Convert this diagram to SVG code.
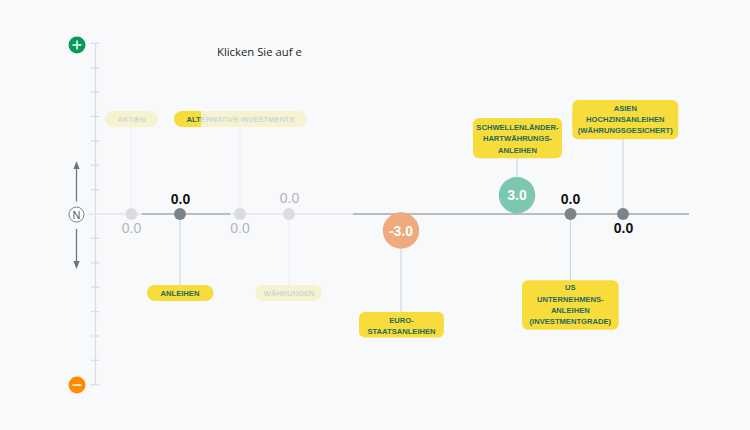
<svg xmlns="http://www.w3.org/2000/svg" width="750" height="430" viewBox="0 0 750 430">
<style>
  text { font-family: "Liberation Sans", Arial, sans-serif; }
  .tick { stroke: #d6dce5; stroke-width: 1.2; }
  .lbl { font-size: 7.6px; font-weight: bold; fill: #1d6b5b; text-anchor: middle; }
  .pill { fill: #f7dc3c; }
  .box { fill: #f7dc3c; }
  .conn { stroke: #ccd3dc; stroke-width: 1; }
  .connf { stroke: #eceef2; stroke-width: 1; }
  .val { font-size: 14px; text-anchor: middle; }
  .vdark { font-weight: bold; fill: #111; }
  .vlight { fill: #b3b6ba; }
  .dotd { fill: #7b848b; }
  .dotl { fill: #dbdcdf; }
  .faded { opacity: 0.22; }
  .cnum { font-size: 14px; font-weight: bold; fill: #fff; text-anchor: middle; }
</style>
<defs>
  <marker id="ah" viewBox="0 0 10 10" refX="5" refY="5" markerWidth="6" markerHeight="6" orient="auto-start-reverse">
    <path d="M0,1 L10,5 L0,9 z" fill="#6b7480"/>
  </marker>
  <clipPath id="reveal"><rect x="170" y="105" width="31" height="30"/></clipPath>
</defs>
<rect width="750" height="430" fill="#f8f9fb"/>

<g id="axis-vertical">
  <line x1="95.5" y1="43.3" x2="95.5" y2="384.7" stroke="#d6dce5" stroke-width="1.2"/>
  <g class="tick">
    <line x1="91" y1="43.3" x2="99.5" y2="43.3"/>
    <line x1="91" y1="67.7" x2="99.5" y2="67.7"/>
    <line x1="91" y1="92.1" x2="99.5" y2="92.1"/>
    <line x1="91" y1="116.5" x2="99.5" y2="116.5"/>
    <line x1="91" y1="140.9" x2="99.5" y2="140.9"/>
    <line x1="91" y1="165.3" x2="99.5" y2="165.3"/>
    <line x1="91" y1="189.6" x2="99.5" y2="189.6"/>
    <line x1="91" y1="238.4" x2="99.5" y2="238.4"/>
    <line x1="91" y1="262.8" x2="99.5" y2="262.8"/>
    <line x1="91" y1="287.2" x2="99.5" y2="287.2"/>
    <line x1="91" y1="311.6" x2="99.5" y2="311.6"/>
    <line x1="91" y1="336" x2="99.5" y2="336"/>
    <line x1="91" y1="360.3" x2="99.5" y2="360.3"/>
    <line x1="91" y1="384.7" x2="99.5" y2="384.7"/>
  </g>
</g>

<g id="plus">
  <circle cx="77" cy="45" r="8.5" fill="#0a9a57"/>
  <path d="M72.5,45 H81.5 M77,40.5 V49.5" stroke="#fff" stroke-width="1.5"/>
</g>
<g id="minus">
  <circle cx="77" cy="385" r="8.5" fill="#ff8b00"/>
  <path d="M72.5,385 H81.5" stroke="#fff" stroke-width="1.5"/>
</g>
<g id="neutral">
  <line x1="76.5" y1="201.5" x2="76.5" y2="165" stroke="#6b7480" stroke-width="1.3" marker-end="url(#ah)"/>
  <line x1="76.5" y1="229" x2="76.5" y2="265" stroke="#6b7480" stroke-width="1.3" marker-end="url(#ah)"/>
  <circle cx="76.5" cy="214.5" r="7.5" fill="#fff" stroke="#7a828a" stroke-width="1"/>
  <text x="76.5" y="218.6" font-size="11" fill="#555c63" text-anchor="middle">N</text>
</g>

<text id="hint" x="217" y="56.3" font-size="11.3" fill="#1e1e1e" style="font-family:'Open Sans','Noto Sans',sans-serif">Klicken Sie auf e</text>

<g id="connectors">
  <line x1="88" y1="214" x2="689" y2="214" stroke="#e4e6ea" stroke-width="1.5"/>
  <line x1="142" y1="214" x2="230" y2="214" stroke="#a9aeb3" stroke-width="1.5"/>
  <line x1="353" y1="214" x2="689" y2="214" stroke="#a9aeb3" stroke-width="1.5"/>
  <line class="connf" x1="131.5" y1="127" x2="131.5" y2="208"/>
  <line class="connf" x1="240" y1="127" x2="240" y2="208"/>
  <line class="conn" x1="180" y1="220" x2="180" y2="285"/>
  <line class="connf" x1="289" y1="220" x2="289" y2="285"/>
  <line class="conn" x1="401" y1="249" x2="401" y2="312"/>
  <line class="conn" x1="517" y1="158" x2="517" y2="177"/>
  <line class="conn" x1="570.5" y1="220" x2="570.5" y2="280"/>
  <line class="conn" x1="623" y1="139" x2="623" y2="208"/>
</g>

<g id="aktien">
  <g class="faded">
    <rect class="pill" x="105" y="111" width="53" height="16" rx="8"/>
    <text class="lbl" x="131.5" y="121.8">AKTIEN</text>
  </g>
  <circle class="dotl" cx="131.5" cy="214" r="6"/>
  <text class="val vlight" x="131.5" y="233.3">0.0</text>
</g>

<g id="alternative-investments">
  <g class="faded">
    <rect class="pill" x="174" y="111" width="132.5" height="16" rx="8"/>
    <text class="lbl" x="240.5" y="121.8">ALTERNATIVE INVESTMENTS</text>
  </g>
  <g clip-path="url(#reveal)">
    <rect class="pill" x="174" y="111" width="132.5" height="16" rx="8"/>
    <text class="lbl" x="240.5" y="121.8">ALTERNATIVE INVESTMENTS</text>
  </g>
  <circle class="dotl" cx="240" cy="214" r="6"/>
  <text class="val vlight" x="240" y="233.3">0.0</text>
</g>

<g id="anleihen">
  <rect class="pill" x="147" y="285" width="66.5" height="16" rx="8"/>
  <text class="lbl" x="180" y="295.8">ANLEIHEN</text>
  <circle class="dotd" cx="180" cy="214" r="6"/>
  <text class="val vdark" x="180.5" y="203.5">0.0</text>
</g>

<g id="waehrungen">
  <g class="faded">
    <rect class="pill" x="255.5" y="285" width="66.5" height="16" rx="8"/>
    <text class="lbl" x="289" y="295.8">WÄHRUNGEN</text>
  </g>
  <circle class="dotl" cx="289" cy="214" r="6"/>
  <text class="val vlight" x="289.5" y="202.5">0.0</text>
</g>

<g id="euro-staatsanleihen">
  <rect class="box" x="359" y="312" width="85" height="25.5" rx="6"/>
  <text class="lbl" x="401.5" y="322.8">EURO-</text>
  <text class="lbl" x="401.5" y="333.6">STAATSANLEIHEN</text>
  <circle cx="401" cy="230.5" r="18.2" fill="#efaa7e"/>
  <text class="cnum" x="401" y="235.5">-3.0</text>
</g>

<g id="schwellenlaender">
  <rect class="box" x="473" y="118" width="89" height="40.3" rx="6"/>
  <text class="lbl" x="517.5" y="130.2">SCHWELLENLÄNDER-</text>
  <text class="lbl" x="517.5" y="141.4">HARTWÄHRUNGS-</text>
  <text class="lbl" x="517.5" y="152.6">ANLEIHEN</text>
  <circle cx="517" cy="195.2" r="18.2" fill="#7cc7b0"/>
  <text class="cnum" x="517" y="200.2">3.0</text>
</g>

<g id="us-unternehmensanleihen">
  <rect class="box" x="522" y="280.3" width="96.7" height="49.5" rx="6"/>
  <text class="lbl" x="570.3" y="290">US</text>
  <text class="lbl" x="570.3" y="301.7">UNTERNEHMENS-</text>
  <text class="lbl" x="570.3" y="313.1">ANLEIHEN</text>
  <text class="lbl" x="570.3" y="324.2">(INVESTMENTGRADE)</text>
  <circle class="dotd" cx="570.5" cy="214" r="6"/>
  <text class="val vdark" x="570.5" y="203.5">0.0</text>
</g>

<g id="asien-hochzinsanleihen">
  <rect class="box" x="572.3" y="100" width="106" height="39.3" rx="6"/>
  <text class="lbl" x="625.3" y="110.8">ASIEN</text>
  <text class="lbl" x="625.3" y="121.9">HOCHZINSANLEIHEN</text>
  <text class="lbl" x="625.3" y="133.4">(WÄHRUNGSGESICHERT)</text>
  <circle class="dotd" cx="623" cy="214" r="6"/>
  <text class="val vdark" x="623.5" y="233.3">0.0</text>
</g>
</svg>
